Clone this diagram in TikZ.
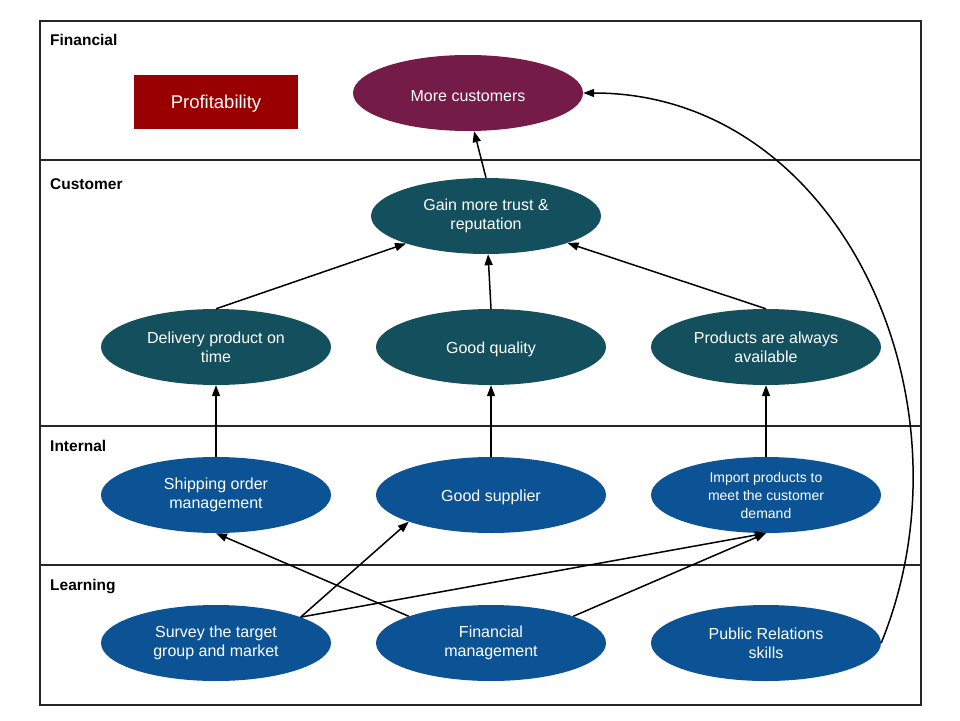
\documentclass[tikz,border=0pt]{standalone}
\usepackage{fontspec}
\setmainfont{Liberation Sans}
\usepackage{tikz}
\usetikzlibrary{shapes,arrows.meta,positioning,calc}

\definecolor{profitred}{HTML}{990000}
\definecolor{custplum}{HTML}{741B47}
\definecolor{custteal}{HTML}{134F5C}
\definecolor{procblue}{HTML}{0B5394}

\begin{document}
\begin{tikzpicture}[x=1pt,y=-1pt,
    goal/.style={ellipse,minimum width=230pt,minimum height=76pt,inner sep=0pt,
        text=white,align=center,font=\fontsize{16}{19}\selectfont,
        execute at begin node={\rule{0pt}{16.5pt}}},
    lane/.style={anchor=west,inner sep=0pt,font=\fontsize{15.5}{18}\selectfont\bfseries},
    link/.style={line width=1.5pt,-{Triangle[length=11pt,width=8pt]}}]
    \useasboundingbox (0,0) rectangle (960,720);

    % perspective lanes
    \draw[line width=2pt,black!85] (40,21) rectangle (921,705);
    \foreach \y in {160,426,565}
        \draw[line width=2pt,black!85] (40,\y) -- (921,\y);
    \node[lane] (l_fin) at (50,40) {Financial};
    \node[lane] (l_cust) at (50,184) {Customer};
    \node[lane] (l_int) at (50,446) {Internal};
    \node[lane] (l_learn) at (50,587) {Learning};

    % Financial
    \node[fill=profitred,minimum width=164pt,minimum height=54pt,text=white,
        font=\fontsize{18.5}{22}\selectfont] (profit) at (216,102)
        {\rule{0pt}{17.5pt}Profitability};
    \node[goal,fill=custplum] (more_cust) at (468,93) {More customers};

    % Customer
    \node[goal,fill=custteal] (gain_trust) at (486,216) {Gain more trust \&\\reputation};
    \node[goal,fill=custteal] (deliv) at (216,347) {Delivery product on\\time};
    \node[goal,fill=custteal] (good_qual) at (491,347) {Good quality};
    \node[goal,fill=custteal] (avail) at (766,347) {Products are always\\available};

    % Internal
    \node[goal,fill=procblue] (ship) at (216,495) {Shipping order\\management};
    \node[goal,fill=procblue] (supplier) at (491,495) {Good supplier};
    \node[goal,fill=procblue,font=\fontsize{14}{18}\selectfont] (import) at (766,495)
        {Import products to\\meet the customer\\demand};

    % Learning
    \node[goal,fill=procblue] (survey) at (216,643) {Survey the target\\group and market};
    \node[goal,fill=procblue] (fin_mgmt) at (491,643) {Financial\\management};
    \node[goal,fill=procblue] (pr) at (766,643) {Public Relations\\skills};

    % cause and effect links
    \draw[link] (gain_trust.north) -- (more_cust.-81);
    \draw[link] (deliv.north) -- (gain_trust);
    \draw[link] (good_qual.north) -- (gain_trust);
    \draw[link] (avail.north) -- (gain_trust);
    \draw[link] (ship) -- (deliv);
    \draw[link] (supplier) -- (good_qual);
    \draw[link] (import) -- (avail);
    \draw[link] (survey.17) -- (supplier.198);
    \draw[link] (survey.17) -- (import.south);
    \draw[link] (fin_mgmt.162) -- (ship.south);
    \draw[link] (fin_mgmt.18) -- (import.south);
    \draw[link] (pr.east) .. controls (980,400) and (840,93) .. (more_cust.east);
\end{tikzpicture}
\end{document}
